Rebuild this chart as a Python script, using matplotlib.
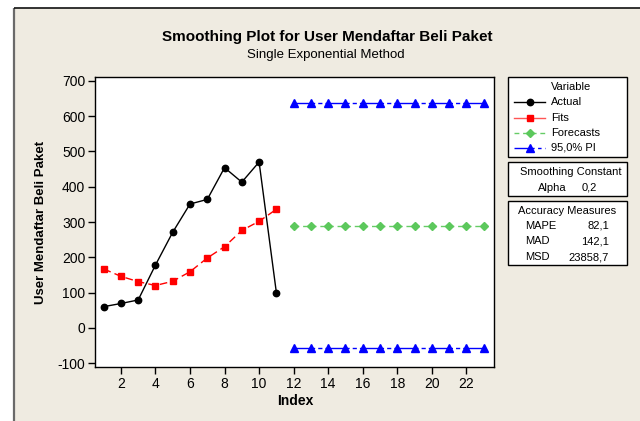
import matplotlib
matplotlib.use('Agg')
import matplotlib.pyplot as plt
from matplotlib.patches import Rectangle
from matplotlib.lines import Line2D

plt.rcParams['font.family'] = ['Liberation Sans', 'DejaVu Sans']
plt.rcParams['axes.unicode_minus'] = False

# ---- data ----
index_actual = [1, 2, 3, 4, 5, 6, 7, 8, 9, 10, 11]
actual = [60, 69, 79, 178, 271, 351, 364, 454, 413, 470, 100]
fits = [167, 146, 131, 120, 132, 159, 198, 230, 276, 302, 336]
index_fc = [12, 13, 14, 15, 16, 17, 18, 19, 20, 21, 22, 23]
forecasts = [289, 289, 289, 289, 289, 289, 289, 289, 289, 289, 289, 289]
upper_pi = [638, 638, 638, 638, 638, 638, 638, 638, 638, 638, 638, 638]
lower_pi = [-57, -57, -57, -57, -57, -57, -57, -57, -57, -57, -57, -57]
x_ticks = [2, 4, 6, 8, 10, 12, 14, 16, 18, 20, 22]
y_ticks = [-100, 0, 100, 200, 300, 400, 500, 600, 700]
legend_labels = ['Actual', 'Fits', 'Forecasts', '95,0% PI']
alpha_label = ['Alpha', '0,2']
acc_names = ['MAPE', 'MAD', 'MSD']
acc_values = ['82,1', '142,1', '23858,7']

W, H = 640, 421
fig = plt.figure(figsize=(W / 100, H / 100), dpi=100)
fig.patch.set_facecolor('white')

# background / overlay axes in pixel coordinates
bg = fig.add_axes([0, 0, 1, 1], zorder=0)
bg.set_xlim(0, W)
bg.set_ylim(H, 0)
bg.axis('off')
bg.add_patch(Rectangle((14, 7.5), W, H, facecolor='#EFEBE1', edgecolor='none'))
bg.plot([14, 14], [7.5, H], color='#6a6a6a', lw=1.6, solid_capstyle='butt')
bg.plot([14, W], [7.5, 7.5], color='#111111', lw=1.2, solid_capstyle='butt')

# main axes
ax = fig.add_axes([95 / W, (H - 367) / H, (494 - 95) / W, (367 - 77) / H], zorder=1)
ax.set_facecolor('white')

fit_ls = (0, (5.5, 3.0))
fc_ls = (0, (3.5, 2.7))
pi_ls = (2.5, (17.4, 2.2, 3.0, 2.2))

ax.plot(index_actual, actual, color='black', lw=1, marker='o', ms=4.6)
ax.plot(index_actual, fits, color='#FF0000', lw=1, ls=fit_ls, marker='s', ms=4.3)
ax.plot(index_fc, forecasts, color='#66CC66', lw=1, ls=fc_ls, marker='D', ms=3.8,
        markerfacecolor='#5CC85C', markeredgecolor='#5CC85C')
ax.plot(index_fc, upper_pi, color='#0000FF', lw=1, ls=pi_ls, marker='^', ms=5.2)
ax.plot(index_fc, lower_pi, color='#0000FF', lw=1, ls=pi_ls, marker='^', ms=5.2)

ax.set_xlim(0.5, 23.6)
ax.set_ylim(-111, 711)
ax.set_xticks(x_ticks)
ax.set_yticks(y_ticks)
ax.tick_params(axis='both', labelsize=10, length=5, width=1, direction='out', pad=2,
               colors='black')
for s in ax.spines.values():
    s.set_linewidth(1)
    s.set_color('black')

# titles and axis labels
fig.text(327 / W, 1 - 37 / H, 'Smoothing Plot for User Mendaftar Beli Paket',
         ha='center', va='center', fontsize=11, fontweight='bold')
fig.text(326 / W, 1 - 55 / H, 'Single Exponential Method',
         ha='center', va='center', fontsize=9.5)
fig.text(41 / W, 1 - 222 / H, 'User Mendaftar Beli Paket', rotation=90,
         ha='center', va='center', fontsize=9.5, fontweight='bold')
fig.text(295 / W, 1 - 401 / H, 'Index', ha='center', va='center',
         fontsize=10, fontweight='bold')

# legend boxes
for (x0, y0, x1, y1) in [(508, 77, 627, 157), (508, 162, 627, 196), (508, 201, 627, 265)]:
    bg.add_patch(Rectangle((x0, y0), x1 - x0, y1 - y0, facecolor='white',
                           edgecolor='black', lw=1))

fs = 8
bg.text(571, 87, 'Variable', ha='center', va='center', fontsize=fs)
rows = [102, 118, 133, 148]
styles = [
    dict(color='black', ls='-', marker='o', mfc='black', mec='black', ms=4.6),
    dict(color='#FF5555', ls='-', marker='s', mfc='#FF0000', mec='#FF0000', ms=4.3),
    dict(color='#66CC66', ls=(0, (3.5, 2.7)), marker='D', mfc='#5CC85C', mec='#5CC85C', ms=3.8),
    dict(color='#0000FF', ls=(0, (14.5, 2.5, 2.5, 2.5)), marker='^', mfc='#0000FF', mec='#0000FF', ms=5.2),
]
for y, lab, st in zip(rows, legend_labels, styles):
    bg.add_line(Line2D([514, 545], [y, y], color=st['color'], ls=st['ls'], lw=1))
    bg.add_line(Line2D([529.5], [y], marker=st['marker'], ms=st['ms'],
                       mfc=st['mfc'], mec=st['mec'], ls='none'))
    bg.text(551, y, lab, ha='left', va='center', fontsize=fs)

bg.text(571, 172, 'Smoothing Constant', ha='center', va='center', fontsize=fs)
bg.text(552, 188, alpha_label[0], ha='center', va='center', fontsize=fs)
bg.text(589, 188, alpha_label[1], ha='center', va='center', fontsize=fs)

bg.text(567, 211, 'Accuracy Measures', ha='center', va='center', fontsize=fs)
for y, n, v in zip([226, 241, 257], acc_names, acc_values):
    bg.text(525, y, n, ha='left', va='center', fontsize=fs)
    bg.text(609, y, v, ha='right', va='center', fontsize=fs)

fig.savefig('out.png', dpi=100, facecolor=fig.get_facecolor())
